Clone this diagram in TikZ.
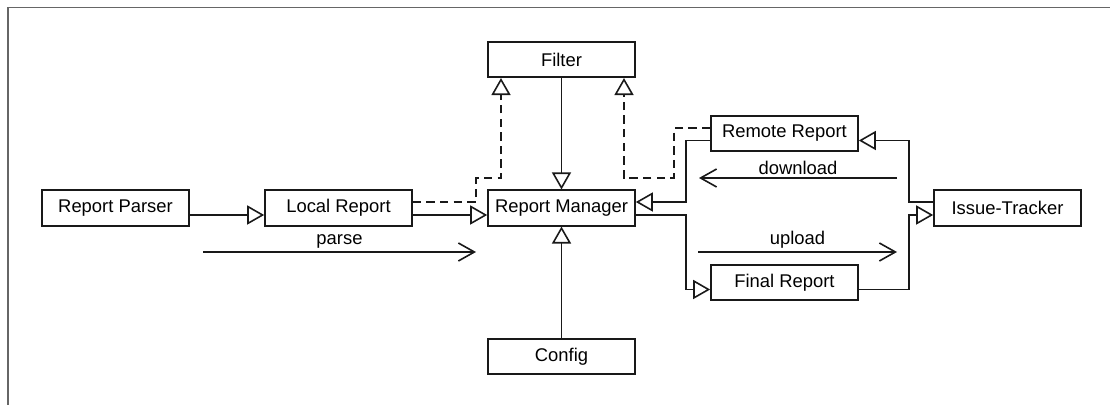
\documentclass[tikz,border=0pt]{standalone}
\usepackage{fontspec}
\setmainfont{Liberation Sans}
\usetikzlibrary{arrows.meta}
\begin{document}
\begin{tikzpicture}[x=0.5pt, y=-0.5pt,
  cls/.style={draw=black!90, line width=0.8pt, minimum width=73.5pt, minimum height=17.75pt,
    inner sep=0pt, font=\fontsize{9.2}{11}\selectfont},
  inh/.style={draw=black!90, line width=0.8pt, -{Triangle[open, length=8.5pt, width=9.5pt]}},
  dep/.style={inh, dash pattern=on 4.2pt off 2.6pt},
  msg/.style={draw=black!90, line width=0.8pt, -{Straight Barb[length=8pt, width=9pt]}},
  lbl/.style={font=\fontsize{9.2}{11}\selectfont, inner sep=0pt}]
  \useasboundingbox (0,0) rectangle (1110,405);
  % Frame
  \draw[black!60, line width=0.6pt] (8,405) -- (8,7.5) -- (1110,7.5);

  % Classes
  \node[cls] (parser) at (115.5,208)  {Report Parser};
  \node[cls] (local)  at (338.5,208)  {Local Report};
  \node[cls] (mgr)    at (561.5,208)  {Report Manager};
  \node[cls] (filter) at (561.5,59.5) {Filter};
  \node[cls] (config) at (561.5,356.5){Config};
  \node[cls] (remote) at (784.5,133.5){Remote Report};
  \node[cls] (final)  at (784.5,282.5){Final Report};
  \node[cls] (issue)  at (1007.5,208) {Issue-Tracker};

  % Bend points
  \coordinate (lbend) at (476,178);
  \coordinate (rbend) at (674,178);
  \coordinate (mbend) at (686,0);
  \coordinate (ibend) at (909,0);

  % Inheritance
  \draw[inh] ([yshift=-3.5pt]parser.east) -- ([yshift=-3.5pt]local.west);
  \draw[inh] ([yshift=-3.5pt]local.east) -- ([yshift=-3.5pt]mgr.west);
  \draw[inh] (filter) -- (mgr);
  \draw[inh] (config) -- (mgr);
  \draw[inh] ([yshift=-3.5pt]remote.west) -| (mbend |- mgr.north) |- ([yshift=3pt]mgr.east);
  \draw[inh] ([yshift=-3.5pt]mgr.east) -| (mbend |- final.north) |- ([yshift=-3.5pt]final.west);
  \draw[inh] ([yshift=3pt]issue.west) -| (ibend |- issue.north) |- ([yshift=-3.5pt]remote.east);
  \draw[inh] ([yshift=-3.5pt]final.east) -| (ibend |- issue.south) |- ([yshift=-3.5pt]issue.west);

  % Dependencies
  \draw[dep] ([yshift=3pt]local.east) -| (lbend) -| ([xshift=-30.25pt]filter.south);
  \draw[dep] ([yshift=2.75pt]remote.west) -| (rbend) -| ([xshift=31.25pt]filter.south);

  % Messages
  \coordinate (p1) at (203,252);
  \coordinate (p2) at (476,252);
  \draw[msg] (p1) -- node[lbl, above=1.5pt] (parse) {parse} (p2);
  \coordinate (d1) at (897,178);
  \coordinate (d2) at (699,178);
  \draw[msg] (d1) -- node[lbl, above=1.5pt] (down) {download} (d2);
  \coordinate (u1) at (698,252);
  \coordinate (u2) at (897,252);
  \draw[msg] (u1) -- node[lbl, above=1.5pt] (up) {upload} (u2);
\end{tikzpicture}
\end{document}
